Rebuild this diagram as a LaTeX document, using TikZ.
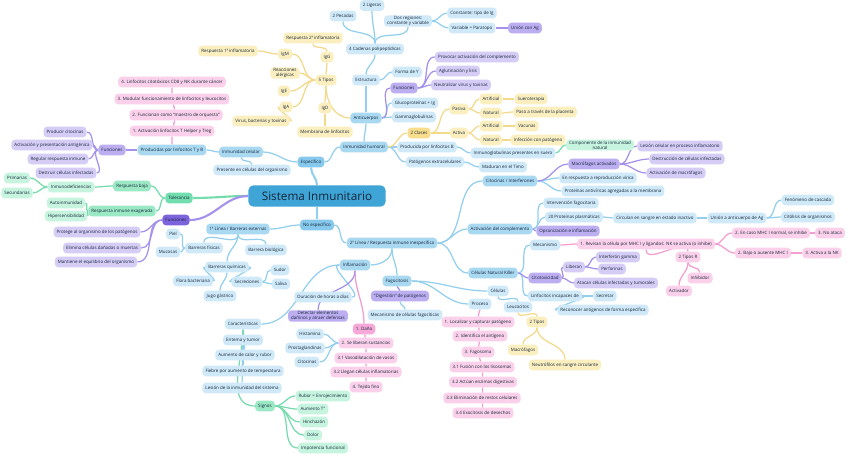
\documentclass[tikz,border=0pt]{standalone}
\usepackage{fontspec}
\setmainfont{Open Sans}
\usetikzlibrary{backgrounds}
\definecolor{mBlueD}{HTML}{3FA4D6}
\definecolor{mBlueM}{HTML}{86C9EC}
\definecolor{mBlueS}{HTML}{A9D8F1}
\definecolor{mBlueL}{HTML}{CFE9F8}
\definecolor{mBlueE}{HTML}{92CFEE}
\definecolor{mYellowL}{HTML}{FBEFBF}
\definecolor{mYellowD}{HTML}{F8DE8C}
\definecolor{mYellowE}{HTML}{F3D98A}
\definecolor{mPinkL}{HTML}{FBD0EA}
\definecolor{mPinkD}{HTML}{F6A9D8}
\definecolor{mPinkE}{HTML}{F29CD0}
\definecolor{mVioletL}{HTML}{D6CDF6}
\definecolor{mVioletM}{HTML}{BCAEF0}
\definecolor{mVioletD}{HTML}{7D63DC}
\definecolor{mVioletE}{HTML}{A591EC}
\definecolor{mGreenL}{HTML}{C6F4DF}
\definecolor{mGreenM}{HTML}{9BE8C5}
\definecolor{mGreenD}{HTML}{72DDAE}
\definecolor{mGreenE}{HTML}{74DBAD}
\definecolor{mInk}{HTML}{15263A}
\tikzset{
  box/.style={rounded corners=3pt, inner xsep=2.6pt, inner ysep=0.8pt, minimum height=9pt,
    align=center, text=mInk, font=\fontsize{3.8}{4.4}\selectfont},
  rootbox/.style={box, fill=mBlueD, minimum width=117pt, minimum height=18pt, rounded corners=4pt,
    font=\fontsize{10}{12}\selectfont},
  nB/.style={box, fill=mBlueL}, nBs/.style={box, fill=mBlueS}, nBm/.style={box, fill=mBlueM},
  nY/.style={box, fill=mYellowL}, nYd/.style={box, fill=mYellowD},
  nP/.style={box, fill=mPinkL}, nPd/.style={box, fill=mPinkD},
  nV/.style={box, fill=mVioletL}, nVm/.style={box, fill=mVioletM}, nVd/.style={box, fill=mVioletD},
  nG/.style={box, fill=mGreenL}, nGm/.style={box, fill=mGreenM}, nGd/.style={box, fill=mGreenD},
  eB/.style={draw=mBlueE, line width=1.05pt}, eY/.style={draw=mYellowE, line width=1.05pt},
  eP/.style={draw=mPinkE, line width=1.05pt}, eV/.style={draw=mVioletE, line width=1.05pt},
  eG/.style={draw=mGreenE, line width=1.05pt}
}
\begin{document}
\begin{tikzpicture}[x=0.03cm, y=-0.03cm]
\useasboundingbox (0,0) rectangle (848,454);

% centro y ramas principales
\node[rootbox] (root) at (317,196) {Sistema Inmunitario};
\node[nBm] (esp) at (311,162) {Específico};
\node[nBm] (noesp) at (317,225) {No específico};
\node[nGd] (tol) at (179,198) {Tolerancia};
\node[nVd] (fun) at (176,220) {Funciones};

% especifico - celular
\node[nBs] (icel) at (241,152) {Inmunidad celular};
\node[nB] (pres) at (252,170) {Presente en células del organismo};
\node[nBs] (prod) at (172,150) {Producidas por linfocitos T y B};
\node[nVm] (funv) at (112,150) {Funciones};
\foreach \txt/\xx/\yy [count=\i] in {Producir citocinas/65/132, Activación y presentación antigénica/52/145,
    Regular respuesta inmune/58/159, Destruir células infectadas/66/173}
  \node[nV] (cv\i) at (\xx,\yy) {\txt};
\foreach \txt/\xx/\yy [count=\i] in {1. Activación linfocitos T Helper y Treg/172/131,
    2. Funcionan como “maestro de orquesta”/176/115,
    3. Modular funcionamiento de linfocitos y leucocitos/172/99,
    4. Linfocitos citotóxicos CD8 y NK durante cáncer/172/82}
  \node[nP] (pc\i) at (\xx,\yy) {\txt};

% especifico - humoral
\node[nBs] (ihum) at (364,147) {Inmunidad humoral};
\node[nBs] (antic) at (366,118) {Anticuerpos};
\node[nB] (estr) at (366,80) {Estructura};
\node[nB] (cad) at (375,49) {4 Cadenas polipeptídicas};
\node[nB] (pes) at (343,16) {2 Pesadas};
\node[nB] (lig) at (372,5.5) {2 Ligeras};
\node[nB] (reg) at (408,21) {Dos regiones:\\constante y variable};
\node[nB] (cons) at (472,13) {Constante: tipo de Ig};
\node[nB] (var) at (472,28) {Variable = Paratopo};
\node[nVm] (ag) at (525,28) {Unión con Ag};
\node[nB] (fy) at (407,72) {Forma de Y};
\node[nVm] (funa) at (404,88) {Funciones};
\foreach \txt/\xx/\yy [count=\i] in {Provocar activación del complemento/477/57,
    Aglutinación y lisis/458/71, Neutralizar virus y toxinas/461/85}
  \node[nV] (av\i) at (\xx,\yy) {\txt};
\node[nB] (gl) at (415,103) {Glucoproteínas + Ig};
\node[nB] (gg) at (414,117) {Gammaglobulinas};
\node[nY] (tipos) at (326,80) {5 Tipos};
\node[nY] (igg) at (327,57) {IgG};
\node[nY] (rdos) at (313,38) {Respuesta 2ª inflamatoria};
\node[nY] (igm) at (285,54) {IgM};
\node[nY] (runo) at (228,51) {Respuesta 1ª inflamatoria};
\node[nY] (ralg) at (285,73) {Reacciones\\alérgicas};
\node[nY] (ige) at (284,91) {IgE};
\node[nY] (iga) at (286,107) {IgA};
\node[nY] (vtox) at (261,121) {Virus, bacterias y toxinas};
\node[nY] (igd) at (325,108) {IgD};
\node[nY] (memb) at (325,132) {Membrana de linfocitos};
\node[nYd] (cls) at (419,133) {2 Clases};
\node[nY] (pas) at (459,109) {Pasiva};
\node[nY] (act) at (459,133) {Activa};
\node[nY] (artA) at (491,99) {Artificial};
\node[nY] (natA) at (491,113) {Natural};
\node[nY] (artB) at (491,126) {Artificial};
\node[nY] (natB) at (491,140) {Natural};
\node[nY] (suero) at (531,99) {Sueroterapia};
\node[nY] (plac) at (545,112) {Paso a través de la placenta};
\node[nY] (vac) at (527,126) {Vacunas};
\node[nY] (infp) at (538,140) {Infección con patógeno};
\node[nB] (plb) at (427,147) {Producida por linfocitos B};
\node[nB] (igs) at (513,153) {Inmunoglobulinas presentes en suero};
\node[nG] (comp) at (600,145) {Componente de la inmunidad\\natural};
\node[nB] (ext) at (435,162) {Patógenos extracelulares};
\node[nB] (mad) at (503,167) {Maduran en el Timo};

% no especifico - 1a linea
\node[nBs] (lin1) at (238,229) {1ª Línea / Barreras externas};
\node[nB] (bfis) at (204,248) {Barreras físicas};
\node[nB] (piel) at (173,234) {Piel};
\node[nB] (muc) at (168,252) {Mucosas};
\node[nB] (bbio) at (266,250) {Barrera biológica};
\node[nB] (bqui) at (227,267) {Barreras químicas};
\node[nB] (flora) at (193,281) {Flora bacteriana};
\node[nB] (secr) at (247,282) {Secreciones};
\node[nB] (sudor) at (280,270) {Sudor};
\node[nB] (saliva) at (281,284) {Saliva};
\node[nB] (jugo) at (220,296) {Jugo gástrico};

% no especifico - 2a linea
\node[nBs] (lin2) at (392,243) {2ª Línea / Respuesta inmune inespecífica};
\node[nBs] (infl) at (355,265) {Inflamación};
\node[nB] (dur) at (323,297) {Duración de horas a días};
\node[nB] (car) at (243,324) {Características};
\foreach \txt/\xx/\yy [count=\i] in {Eritema y tumor/243/340, Aumento de calor y rubor/245/355,
    Fiebre por aumento de temperatura/243/371, Lesión de la inmunidad del sistema/242/388}
  \node[nB] (ca\i) at (\xx,\yy) {\txt};
\node[nGm] (sig) at (265,406) {Signos};
\foreach \txt/\xx/\yy [count=\i] in {Rubor = Enrojecimiento/323/396, Aumento T°/313/409,
    Hinchazón/314/422, Dolor/313/435, Impotencia funcional/323/448}
  \node[nG] (sg\i) at (\xx,\yy) {\txt};
\node[nVm] (det) at (318,316) {Detectar elementos\\dañinos y atraer defensas};
\node[nB] (hist) at (310,334) {Histamina};
\node[nB] (prost) at (305,348) {Prostaglandinas};
\node[nB] (citq) at (307,362) {Citocinas};
\node[nPd] (dn1) at (364,329) {1. Daño};
\foreach \txt/\yy [count=\i from 2] in {2. Se liberan sustancias/343, 3.1 Vasodilatación de vasos/358,
    3.2 Llegan células inflamatorias/372, 4. Tejido fino/387}
  \node[nP] (dn\i) at (366,\yy) {\txt};

\node[nBs] (fag) at (397,281) {Fagocitosis};
\node[nVm] (dig) at (400,296) {“Digestión” de patógenos};
\node[nB] (mec) at (405,315) {Mecanismo de células fagocíticas};
\node[nB] (cel) at (498,291) {Células};
\node[nB] (proc) at (480,304) {Proceso};
\node[nB] (leu) at (518,307) {Leucocitos};
\foreach \txt/\xx/\yy [count=\i] in {1. Localizar y capturar patógeno/478/322, 2. Identifica el antígeno/480/336,
    3. Fagosoma/478/352, 3.1 Fusión con los lisosomas/482/367, 3.2 Actúan enzimas digestivas/483/382,
    3.3 Eliminación de restos celulares/482/398, 3.4 Exocitosis de desechos/483/413}
  \node[nP] (fs\i) at (\xx,\yy) {\txt};
\node[nY] (tip2) at (537,322) {2 Tipos};
\node[nY] (macr) at (523,350) {Macrófagos};
\node[nY] (neut) at (565,365) {Neutrófilos en sangre circulante};

\node[nBs] (nk) at (493,273) {Células Natural Killer};
\node[nB] (mecnk) at (545,245) {Mecanismo};
\node[nP] (nkA) at (646,244) {1. Revisan la célula por MHC I y ligandos: NK se activa (o inhibe)};
\node[nP] (nkB) at (771,233) {2. En caso MHC I normal, se inhibe};
\node[nP] (nkC) at (830,233) {3. No ataca};
\node[nP] (nkD) at (763,253) {2. Bajo o ausente MHC I};
\node[nP] (nkE) at (822,253) {3. Activa a la NK};
\node[nP] (tipR) at (688,257) {2 Tipos R};
\node[nP] (inh) at (700,278) {Inhibidor};
\node[nP] (actv) at (679,291) {Activador};
\node[nVm] (cito) at (545,278) {Citotoxicidad};
\node[nV] (lib) at (574,267) {Liberan};
\node[nV] (ifg) at (618,257) {Interferón gamma};
\node[nV] (perf) at (612,269) {Perforinas};
\node[nV] (atac) at (616,283) {Atacan células infectadas y tumorales};
\node[nB] (linc) at (555,296) {Linfocitos incapaces de};
\node[nB] (secre) at (605,296) {Secretar};
\node[nB] (recon) at (603,310) {Reconocer antígenos de forma específica};

\node[nBs] (compl) at (500,229) {Activación del complemento};
\node[nB] (ifag) at (571,203) {Intervención fagocitaria};
\node[nB] (pplas) at (574,217) {20 Proteínas plasmáticas};
\node[nVm] (opso) at (568,231) {Opsonización e inflamación};
\node[nB] (circ) at (655,218) {Circulan en sangre en estado inactivo};
\node[nB] (union) at (737,218) {Unión a anticuerpo de Ag};
\node[nB] (casc) at (808,200) {Fenómeno de cascada};
\node[nB] (cliz) at (808,217) {Citólisis de organismos};

\node[nBs] (ifn) at (510,181) {Citocinas / Interferones};
\node[nVm] (mact) at (594,164) {Macrófagos activados};
\node[nB] (repv) at (598,178) {En respuesta a reproducción vírica};
\node[nB] (prot) at (613,191) {Proteínas antivíricas agregadas a la membrana};
\node[nV] (lesc) at (680,146) {Lesión celular en proceso inflamatorio};
\node[nV] (dest) at (687,159) {Destrucción de células infectadas};
\node[nV] (actm) at (676,173) {Activación de macrófagos};

% tolerancia y funciones
\node[nGm] (baja) at (132,186) {Respuesta baja};
\node[nG] (inmd) at (71,187) {Inmunodeficiencias};
\node[nG] (prim) at (17,178) {Primarias};
\node[nG] (secu) at (17,193) {Secundarias};
\node[nGm] (exag) at (122,211) {Respuesta inmune exagerada};
\node[nG] (auto) at (66,203) {Autoinmunidad};
\node[nG] (hip) at (66,216) {Hipersensibilidad};
\foreach \txt/\xx/\yy [count=\i] in {Protege al organismo de los patógenos/97/232,
    Elimina células dañadas o muertas/102/248, Mantiene el equilibrio del organismo/96/262}
  \node[nV] (fu\i) at (\xx,\yy) {\txt};

% conexiones
\begin{scope}[on background layer]
  \fill[white] (0,0) rectangle (848,454);
  \draw[eB, line width=1.8pt] (root) to[out=90,in=-90] (esp);
  \draw[eB, line width=1.8pt] (root) to[out=-90,in=90] (noesp);
  \draw[eG, line width=1.8pt] (root) to[out=180,in=0] (tol);
  \draw[eV, line width=1.8pt] (root) to[out=180,in=0] (fun);
  \foreach \pa/\ch in {esp/ihum, ihum/plb, plb/igs, ihum/ext, ext/mad, reg/cons, reg/var, estr/fy,
      antic/gl, antic/gg, noesp/lin2, lin2/ifn, lin2/compl, lin2/nk, bqui/secr, secr/sudor, secr/saliva,
      fag/proc, nk/mecnk, nk/linc, linc/secre, linc/recon, compl/ifag, compl/pplas, pplas/circ,
      circ/union, union/casc, union/cliz, ifn/repv, ifn/prot}
    \draw[eB] (\pa) to[out=0,in=180] (\ch);
  \foreach \pa/\ch in {esp/icel, icel/prod, noesp/lin1, bfis/piel, bfis/muc, bqui/flora, infl/dur,
      infl/car, dn2/hist, dn2/prost, dn2/citq}
    \draw[eB] (\pa) to[out=180,in=0] (\ch);
  \foreach \pa/\ch in {ihum/antic, antic/estr, estr/cad, cad/pes, cad/lig, cad/reg}
    \draw[eB] (\pa) to[out=90,in=-90] (\ch);
  \foreach \pa/\ch in {icel/pres, lin1/bfis, lin1/bbio, lin1/bqui, bqui/jugo, lin2/fag, dig/mec, cel/leu}
    \draw[eB] (\pa) to[out=-90,in=90] (\ch);
  \draw[eB] (fag) to[out=0,in=180] (cel);
  \draw[eB] (lin2) to[out=-90,in=0] (infl);
  \foreach \i in {1,...,4} \draw[eB] (car) -- (ca\i);
  \draw[eG] (car) to[out=-90,in=180] (sig);
  % amarillo
  \foreach \pa/\ch in {ihum/cls, cls/pas, cls/act, pas/artA, pas/natA, act/artB, act/natB,
      artA/suero, natA/plac, artB/vac, natB/infp}
    \draw[eY] (\pa) to[out=0,in=180] (\ch);
  \foreach \pa/\ch in {tipos/igm, tipos/ralg, tipos/ige, tipos/iga, igm/runo, iga/vtox}
    \draw[eY] (\pa) to[out=180,in=0] (\ch);
  \foreach \pa/\ch in {tipos/igg, igg/rdos}
    \draw[eY] (\pa) to[out=90,in=-90] (\ch);
  \foreach \pa/\ch in {tipos/igd, igd/memb, leu/tip2, tip2/macr, tip2/neut}
    \draw[eY] (\pa) to[out=-90,in=90] (\ch);
  \draw[eY] (antic) to[out=180,in=-90] (tipos);
  % rosa
  \draw[eP] (prod) -- (pc1) -- (pc2) -- (pc3) -- (pc4);
  \draw[eP] (infl) to[out=-90,in=90] (dn1);
  \draw[eP] (dn1) -- (dn2) -- (dn3) -- (dn4) -- (dn5);
  \draw[eP] (proc) to[out=-90,in=90] (fs1);
  \draw[eP] (fs1) -- (fs2) -- (fs3) -- (fs4) -- (fs5) -- (fs6) -- (fs7);
  \foreach \pa/\ch in {mecnk/nkA, nkA/nkB, nkA/nkD, nkB/nkC, nkD/nkE}
    \draw[eP] (\pa) to[out=0,in=180] (\ch);
  \foreach \pa/\ch in {nkA/tipR, tipR/inh, tipR/actv}
    \draw[eP] (\pa) to[out=-90,in=90] (\ch);
  % violeta
  \foreach \pa/\ch in {fun/fu1, fun/fu2, fun/fu3, prod/funv, funv/cv1, funv/cv2, funv/cv3, funv/cv4}
    \draw[eV] (\pa) to[out=180,in=0] (\ch);
  \foreach \pa/\ch in {antic/funa, funa/av1, funa/av2, funa/av3, var/ag, ifn/mact, mact/lesc,
      mact/dest, mact/actm, compl/opso, nk/cito, cito/lib, cito/atac, lib/ifg, lib/perf}
    \draw[eV] (\pa) to[out=0,in=180] (\ch);
  \foreach \pa/\ch in {infl/det, fag/dig}
    \draw[eV] (\pa) to[out=-90,in=90] (\ch);
  % verde
  \foreach \pa/\ch in {tol/baja, tol/exag, baja/inmd, inmd/prim, inmd/secu, exag/auto, exag/hip}
    \draw[eG] (\pa) to[out=180,in=0] (\ch);
  \foreach \i in {1,...,5} \draw[eG] (sig) to[out=0,in=180] (sg\i);
  \draw[eG] (igs) to[out=0,in=180] (comp);
\end{scope}
\end{tikzpicture}
\end{document}
